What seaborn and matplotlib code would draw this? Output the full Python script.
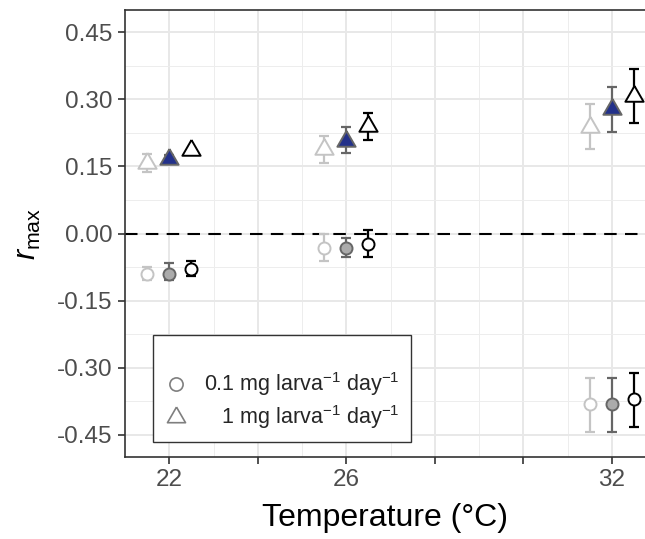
import numpy as np
import pandas as pd
import matplotlib
matplotlib.use("Agg")
import matplotlib.pyplot as plt
from matplotlib.lines import Line2D
from matplotlib.ticker import FixedLocator
import seaborn as sns

# temperatures and the three dodged series (light / filled / black)
temps = [22, 26, 32]
series = ["light", "filled", "black"]
dodge = [-0.5, 0.0, 0.5]

# 1 mg larva-1 day-1 (triangles): mean, lower, upper
tri_light = [0.158, 0.188, 0.238]
tri_light_lo = [0.138, 0.158, 0.188]
tri_light_hi = [0.178, 0.218, 0.289]
tri_filled = [0.167, 0.208, 0.278]
tri_filled_lo = [0.160, 0.179, 0.228]
tri_filled_hi = [0.175, 0.238, 0.328]
tri_black = [0.187, 0.240, 0.308]
tri_black_lo = [0.187, 0.209, 0.248]
tri_black_hi = [0.187, 0.269, 0.369]

# 0.1 mg larva-1 day-1 (circles)
circ_light = [-0.090, -0.032, -0.382]
circ_light_lo = [-0.105, -0.062, -0.444]
circ_light_hi = [-0.075, -0.002, -0.323]
circ_filled = [-0.090, -0.032, -0.382]
circ_filled_lo = [-0.105, -0.053, -0.444]
circ_filled_hi = [-0.065, -0.011, -0.323]
circ_black = [-0.080, -0.023, -0.371]
circ_black_lo = [-0.095, -0.053, -0.432]
circ_black_hi = [-0.062, 0.007, -0.312]

dose_labels = [r"0.1 mg larva$^{-1}$ day$^{-1}$", r"   1 mg larva$^{-1}$ day$^{-1}$"]
y_ticks = [-0.45, -0.30, -0.15, 0.00, 0.15, 0.30, 0.45]
x_ticks = [22, 24, 26, 28, 30, 32]
x_ticklabels = ["22", "", "26", "", "", "32"]

# long table
rows = []
blocks = {
    ("tri", "light"): (tri_light, tri_light_lo, tri_light_hi),
    ("tri", "filled"): (tri_filled, tri_filled_lo, tri_filled_hi),
    ("tri", "black"): (tri_black, tri_black_lo, tri_black_hi),
    ("circ", "light"): (circ_light, circ_light_lo, circ_light_hi),
    ("circ", "filled"): (circ_filled, circ_filled_lo, circ_filled_hi),
    ("circ", "black"): (circ_black, circ_black_lo, circ_black_hi),
}
for (shape, ser), (m, lo, hi) in blocks.items():
    for i, t in enumerate(temps):
        rows.append(dict(shape=shape, series=ser, temp=t,
                         x=t + dodge[series.index(ser)],
                         rmax=m[i], lo=lo[i], hi=hi[i]))
df = pd.DataFrame(rows)

sns.set_style("white")
plt.rcParams["font.family"] = ["Liberation Sans", "DejaVu Sans"]
plt.rcParams["mathtext.fontset"] = "custom"
plt.rcParams["mathtext.rm"] = "Liberation Sans"
plt.rcParams["mathtext.it"] = "Liberation Sans:italic"

# triangle with centroid on the data point (like R pch 24)
tri_marker = [(0, 1), (-0.866, -0.5), (0.866, -0.5), (0, 1)]

edge_col = {"light": "#C4C4C4", "filled": "#666666", "black": "#000000"}
fill_col = {("circ", "light"): "white", ("circ", "filled"): "#ABABAB", ("circ", "black"): "white",
            ("tri", "light"): "white", ("tri", "filled"): "#23318A", ("tri", "black"): "white"}
marker = {"circ": "o", "tri": tri_marker}
msize = {"circ": 75, "tri": 230}

fig = plt.figure(figsize=(6.45, 5.39), dpi=100)
ax = fig.add_axes([125 / 645, 1 - 457 / 539, 1 - 125 / 645, (457 - 10) / 539])

ax.axhline(0, color="black", lw=1.5, dashes=(6, 4), zorder=2)

for (shape, ser), sub in df.groupby(["shape", "series"]):
    ax.errorbar(sub["x"], sub["rmax"],
                yerr=[sub["rmax"] - sub["lo"], sub["hi"] - sub["rmax"]],
                fmt="none", ecolor=edge_col[ser], elinewidth=1.6,
                capsize=3.5, capthick=1.6, zorder=3)
    sns.scatterplot(data=sub, x="x", y="rmax", ax=ax, marker=marker[shape],
                    s=msize[shape], color=fill_col[(shape, ser)],
                    edgecolor=edge_col[ser], linewidth=1.4, zorder=4, legend=False)

ax.set_xlim(21.0, 32.75)
ax.set_ylim(-0.5, 0.5)
ax.set_xticks(x_ticks)
ax.set_xticklabels(x_ticklabels)
ax.set_yticks(y_ticks)
ax.set_yticklabels([f"{v:.2f}" for v in y_ticks])
ax.xaxis.set_minor_locator(FixedLocator([23, 25, 27, 29, 31]))
ax.yaxis.set_minor_locator(FixedLocator([-0.375, -0.225, -0.075, 0.075, 0.225, 0.375]))

ax.grid(which="major", color="#E8E8E8", lw=1.4, zorder=0)
ax.grid(which="minor", color="#EDEDED", lw=0.7, zorder=0)
ax.set_axisbelow(True)
ax.tick_params(which="major", direction="out", length=5, width=1.2, color="#333333",
               labelsize=17.5, labelcolor="#4D4D4D", pad=4, bottom=True, left=True)
ax.tick_params(which="minor", length=0)
for side in ["left", "bottom", "top"]:
    ax.spines[side].set_color("#333333")
    ax.spines[side].set_linewidth(1.2)
ax.spines["right"].set_visible(False)

ax.set_xlabel("Temperature (°C)", fontsize=23, color="black", labelpad=8)
ax.set_ylabel(r"$r_{\mathrm{max}}$", fontsize=22, color="black", labelpad=10)

handles = [Line2D([], [], ls="none", marker="o", ms=9.5, mfc="none", mec="#7F7F7F", mew=1.2),
           Line2D([], [], ls="none", marker=tri_marker, ms=15, mfc="none", mec="#7F7F7F", mew=1.2)]
leg = ax.legend(handles, dose_labels, title=" ", title_fontsize=15, fontsize=15.5,
                loc="upper left", bbox_to_anchor=(152.7 / 645, 1 - 335 / 539),
                bbox_transform=fig.transFigure, frameon=True, fancybox=False,
                edgecolor="#333333", framealpha=1, borderpad=0.5, labelspacing=0.25,
                handletextpad=0.7, handlelength=1.2, borderaxespad=0)
leg.get_frame().set_linewidth(1.0)

fig.savefig("out.png", dpi=100)
